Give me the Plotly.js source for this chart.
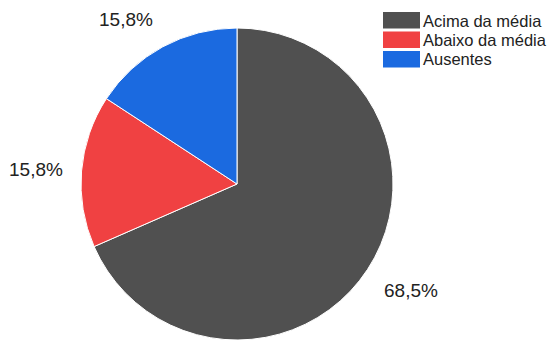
<!DOCTYPE html>
<html><head><meta charset="utf-8">
<script src="https://cdn.plot.ly/plotly-3.0.1.min.js"></script>
<style>html,body{margin:0;padding:0;overflow:hidden;background:#fff}</style>
</head><body><div id="chart" style="width:549px;height:340px"></div>
<script>
const labels = ["Acima da média", "Abaixo da média", "Ausentes"];
const values = [68.5, 15.8, 15.8];
const colors = ["#505050", "#f04142", "#1b6ae0"];

const W = 549, H = 340, T = 28, PH = 312;
const cxPx = 237, cyPx = 184, anchorR = 174;
const px2x = p => p / W;
const py2y = p => (H - p) / PH;

const total = values.reduce((a, b) => a + b, 0);
const annotations = [];
let acc = 0;
values.forEach((v, i) => {
  const mid = (acc + v / 2) / total * 2 * Math.PI;
  acc += v;
  const s = Math.sin(mid), c = Math.cos(mid);
  const x = cxPx + anchorR * s;
  const y = cyPx - anchorR * c;
  annotations.push({
    xref: 'paper', yref: 'paper', x: px2x(x), y: py2y(y),
    text: v.toFixed(1).replace('.', ',') + '%', showarrow: false,
    xanchor: Math.abs(s) < 0.3 ? 'center' : (s > 0 ? 'left' : 'right'),
    yanchor: Math.abs(c) < 0.3 ? 'middle' : (c > 0 ? 'bottom' : 'top'),
    borderpad: 0,
    font: {family: 'Liberation Sans, Arial, sans-serif', size: 19, color: '#222'}
  });
});

const shapes = [];
labels.forEach((l, i) => {
  const top = 12 + i * 19.5;
  shapes.push({type: 'rect', xref: 'paper', yref: 'paper',
    x0: px2x(383), x1: px2x(420), y0: py2y(top), y1: py2y(top + 16.5),
    fillcolor: colors[i], line: {width: 0}});
  annotations.push({xref: 'paper', yref: 'paper', x: px2x(421), y: py2y(top + 8.5),
    text: l, showarrow: false, xanchor: 'left', yanchor: 'middle',
    font: {family: 'Liberation Sans, Arial, sans-serif', size: 16.5, color: '#222'}});
});

Plotly.newPlot('chart', [{
  type: 'pie', labels: labels, values: values, sort: false,
  direction: 'clockwise', rotation: 0, textinfo: 'none', hoverinfo: 'none',
  marker: {colors: colors, line: {color: '#ffffff', width: 1}},
  domain: {x: [0, 2 * cxPx / W], y: [0, 1]}
}], {
  width: W, height: H, margin: {l: 0, r: 0, t: T, b: 0},
  showlegend: false, separators: ',.',
  paper_bgcolor: '#fff', plot_bgcolor: '#fff',
  annotations: annotations, shapes: shapes
}, {staticPlot: true, displayModeBar: false});
</script></body></html>
